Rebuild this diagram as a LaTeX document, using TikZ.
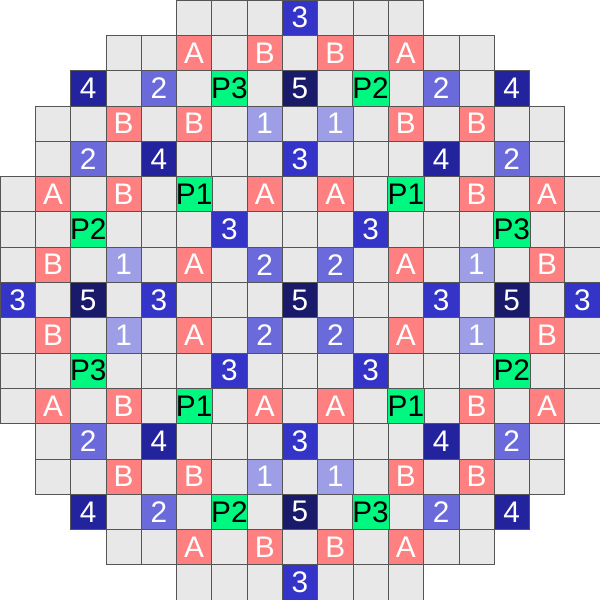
\documentclass[tikz,border=0pt]{standalone}
\usepackage{fontspec}
\setmainfont{Liberation Sans}
\usepackage{tikz}

\definecolor{cellgray}{HTML}{E8E8E8}
\definecolor{edgegray}{HTML}{555555}
\definecolor{fuelAB}{HTML}{FF8080}
\definecolor{rod1}{HTML}{9E9EE6}
\definecolor{rod2}{HTML}{6A6ADA}
\definecolor{rod3}{HTML}{3434C8}
\definecolor{rod4}{HTML}{23239E}
\definecolor{rod5}{HTML}{1A1A6A}
\definecolor{probe}{HTML}{00F880}

\tikzset{
  cellbox/.style={draw=edgegray, line width=0.45pt, fill=cellgray, minimum size=1cm, inner sep=0pt},
  tagbox/.style={cellbox, font=\fontsize{24}{26}\selectfont, text=white},
  lbl A/.style={tagbox, fill=fuelAB},
  lbl B/.style={tagbox, fill=fuelAB},
  lbl 1/.style={tagbox, fill=rod1},
  lbl 2/.style={tagbox, fill=rod2},
  lbl 3/.style={tagbox, fill=rod3},
  lbl 4/.style={tagbox, fill=rod4},
  lbl 5/.style={tagbox, fill=rod5},
  lbl P1/.style={tagbox, fill=probe, text=black},
  lbl P2/.style={tagbox, fill=probe, text=black},
  lbl P3/.style={tagbox, fill=probe, text=black}
}

\begin{document}
\begin{tikzpicture}
    \useasboundingbox (-0.5, -16.5) rectangle (16.5, 0.5);

    % plain cells, row by row (first column of each row)
    \foreach \r/\lo in {0/5, 1/3, 2/2, 3/1, 4/1, 5/0, 6/0, 7/0, 8/0, 9/0, 10/0, 11/0, 12/1, 13/1, 14/2, 15/3, 16/5} {
        \pgfmathtruncatemacro{\hi}{16 - \lo}
        \foreach \c in {\lo, ..., \hi} {
            \node[cellbox] (c-\r-\c) at (\c, -\r) {};
        }
    }

    % marked cells: column/row/label
    \foreach \c/\r/\t in {
        8/0/3,
        5/1/A, 7/1/B, 9/1/B, 11/1/A,
        2/2/4, 4/2/2, 6/2/P3, 8/2/5, 10/2/P2, 12/2/2, 14/2/4,
        3/3/B, 5/3/B, 7/3/1, 9/3/1, 11/3/B, 13/3/B,
        2/4/2, 4/4/4, 8/4/3, 12/4/4, 14/4/2,
        1/5/A, 3/5/B, 5/5/P1, 7/5/A, 9/5/A, 11/5/P1, 13/5/B, 15/5/A,
        2/6/P2, 6/6/3, 10/6/3, 14/6/P3,
        1/7/B, 3/7/1, 5/7/A, 7/7/2, 9/7/2, 11/7/A, 13/7/1, 15/7/B,
        0/8/3, 2/8/5, 4/8/3, 8/8/5, 12/8/3, 14/8/5, 16/8/3,
        1/9/B, 3/9/1, 5/9/A, 7/9/2, 9/9/2, 11/9/A, 13/9/1, 15/9/B,
        2/10/P3, 6/10/3, 10/10/3, 14/10/P2,
        1/11/A, 3/11/B, 5/11/P1, 7/11/A, 9/11/A, 11/11/P1, 13/11/B, 15/11/A,
        2/12/2, 4/12/4, 8/12/3, 12/12/4, 14/12/2,
        3/13/B, 5/13/B, 7/13/1, 9/13/1, 11/13/B, 13/13/B,
        2/14/4, 4/14/2, 6/14/P2, 8/14/5, 10/14/P3, 12/14/2, 14/14/4,
        5/15/A, 7/15/B, 9/15/B, 11/15/A,
        8/16/3} {
        \node[lbl \t] (m-\r-\c) at (\c, -\r) {\t};
    }
\end{tikzpicture}
\end{document}
